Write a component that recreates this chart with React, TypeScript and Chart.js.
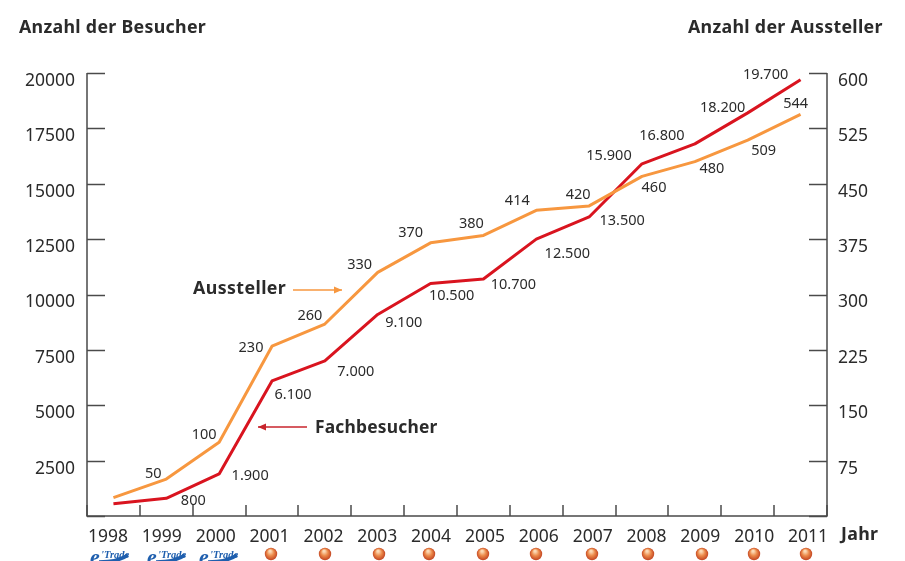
import React, { useEffect, useRef } from "react";
import { Chart, registerables } from "chart.js";

Chart.register(...registerables);

const years = ["1998","1999","2000","2001","2002","2003","2004","2005","2006","2007","2008","2009","2010","2011"];
const fachbesucher = [550,800,1900,6100,7000,9100,10500,10700,12500,13500,15900,16800,18200,19700];
const aussteller = [25,50,100,230,260,330,370,380,414,420,460,480,509,544];
const fachLabels = [null,"800","1.900","6.100","7.000","9.100","10.500","10.700","12.500","13.500","15.900","16.800","18.200","19.700"];
const ausLabels = [null,"50","100","230","260","330","370","380","414","420","460","480","509","544"];

const FONT = '"Noto Sans", sans-serif';
const TEXT = "#2b2b2b";
const RED = "#d9141f";
const ORANGE = "#f7973f";

const fachOffsets = [[0,0],[27,3],[31,2],[21,14],[31,11],[26,8],[21,12],[30,6],[31,15],[33,4],[-33,-8],[-33,-8],[-25,-5],[-35,-5]];
const ausOffsets = [[0,0],[-13,-5],[-15,-7],[-21,2],[-15,-8],[-18,-7],[-20,-10],[-12,-12],[-19,-9],[-11,-11],[12,12],[17,7],[16,11],[-5,-10]];
const ballX = [271,325,379,429,483,536,592,648,702,754,806];
const logoX = [90,147,199];

function arrow(ctx: CanvasRenderingContext2D, x1: number, x2: number, y: number, color: string) {
  const d = x2 > x1 ? 1 : -1;
  ctx.strokeStyle = color;
  ctx.fillStyle = color;
  ctx.lineWidth = 1.6;
  ctx.beginPath();
  ctx.moveTo(x1, y);
  ctx.lineTo(x2, y);
  ctx.stroke();
  ctx.beginPath();
  ctx.moveTo(x2, y);
  ctx.lineTo(x2 - 8 * d, y - 3.5);
  ctx.lineTo(x2 - 8 * d, y + 3.5);
  ctx.closePath();
  ctx.fill();
}

function spaced(ctx: CanvasRenderingContext2D, s: string, x: number, y: number, font: string, sp: string) {
  ctx.font = font;
  (ctx as any).letterSpacing = sp;
  ctx.textAlign = "left";
  ctx.textBaseline = "middle";
  ctx.fillStyle = TEXT;
  ctx.fillText(s, x, y);
  (ctx as any).letterSpacing = "0px";
}

const decor = {
  id: "decor",
  afterDraw(chart: any) {
    const { ctx, chartArea: a, scales } = chart;
    const { x, y, y2 } = scales;
    ctx.save();

    // axis lines
    ctx.strokeStyle = "#4a4a4a";
    ctx.lineWidth = 1.5;
    ctx.beginPath();
    ctx.moveTo(a.left, a.top);
    ctx.lineTo(a.left, a.bottom);
    ctx.lineTo(a.right, a.bottom);
    ctx.lineTo(a.right, a.top);
    ctx.stroke();

    // inward ticks
    y.ticks.forEach((t: any) => {
      const p = Math.round(y.getPixelForValue(t.value)) + 0.5;
      ctx.beginPath();
      ctx.moveTo(a.left, p);
      ctx.lineTo(a.left + 18, p);
      ctx.stroke();
    });
    y2.ticks.forEach((t: any) => {
      const p = Math.round(y2.getPixelForValue(t.value)) + 0.5;
      ctx.beginPath();
      ctx.moveTo(a.right, p);
      ctx.lineTo(a.right - 18, p);
      ctx.stroke();
    });
    const band = x.getPixelForValue(1) - x.getPixelForValue(0);
    for (let i = 0; i <= years.length; i++) {
      const p = Math.round(x.getPixelForValue(0) - band / 2 + i * band);
      ctx.beginPath();
      ctx.moveTo(p, a.bottom);
      ctx.lineTo(p, a.bottom - 11);
      ctx.stroke();
    }

    // value labels
    ctx.font = `14.5px ${FONT}`;
    ctx.fillStyle = TEXT;
    ctx.textAlign = "center";
    ctx.textBaseline = "middle";
    fachLabels.forEach((s, i) => {
      if (!s) return;
      ctx.fillText(s, x.getPixelForValue(i) + fachOffsets[i][0], y.getPixelForValue(fachbesucher[i]) + fachOffsets[i][1]);
    });
    ausLabels.forEach((s, i) => {
      if (!s) return;
      ctx.fillText(s, x.getPixelForValue(i) + ausOffsets[i][0], y2.getPixelForValue(aussteller[i]) + ausOffsets[i][1]);
    });

    // titles and series names
    const bold = `700 17.8px ${FONT}`;
    spaced(ctx, "Anzahl der Besucher", 19, 28, bold, "0.3px");
    spaced(ctx, "Anzahl der Aussteller", 688, 28, bold, "0.3px");
    spaced(ctx, "Aussteller", 193, 289, bold, "0.4px");
    spaced(ctx, "Fachbesucher", 315, 428, `700 17.4px ${FONT}`, "0.2px");
    spaced(ctx, "Jahr", 841, 535, bold, "0.3px");
    arrow(ctx, 293, 342, 290, ORANGE);
    arrow(ctx, 307, 258, 427, "#c8242c");

    // logos along the bottom edge
    logoX.forEach((lx) => {
      ctx.fillStyle = "#1f5fae";
      ctx.textAlign = "left";
      ctx.textBaseline = "alphabetic";
      ctx.font = 'italic 700 22px "Liberation Serif", serif';
      ctx.fillText("e", lx, 564);
      ctx.font = 'italic 700 10.5px "Liberation Serif", serif';
      ctx.fillText("'Trade", lx + 11, 558);
      ctx.strokeStyle = "#1f5fae";
      ctx.lineWidth = 3.5;
      ctx.beginPath();
      ctx.moveTo(lx + 9, 562);
      ctx.quadraticCurveTo(lx + 28, 562, lx + 38, 555);
      ctx.stroke();
    });
    ballX.forEach((bx) => {
      const g = ctx.createRadialGradient(bx - 1, 551, 1, bx, 554, 6.5);
      g.addColorStop(0, "#fbd9b5");
      g.addColorStop(0.45, "#ec8a4a");
      g.addColorStop(1, "#c0401f");
      ctx.fillStyle = g;
      ctx.beginPath();
      ctx.arc(bx, 554, 6.2, 0, Math.PI * 2);
      ctx.fill();
    });
    ctx.restore();
  },
};

export default function App() {
  const ref = useRef<HTMLCanvasElement>(null);
  useEffect(() => {
    const tickFont = { family: FONT, size: 17.5 };
    const chart = new Chart(ref.current!, {
      type: "line",
      data: {
        labels: years,
        datasets: [
          { label: "Aussteller", data: aussteller, yAxisID: "y2", xAxisID: "x", borderColor: ORANGE, borderWidth: 3, pointRadius: 0, tension: 0, borderJoinStyle: "round" },
          { label: "Fachbesucher", data: fachbesucher, yAxisID: "y", xAxisID: "x", borderColor: RED, borderWidth: 3, pointRadius: 0, tension: 0, borderJoinStyle: "round" },
        ],
      },
      options: {
        responsive: false,
        animation: false,
        layout: { padding: { top: 73, left: 0, right: 0, bottom: 0 } },
        plugins: { legend: { display: false }, tooltip: { enabled: false }, title: { display: false } },
        scales: {
          x: {
            type: "category",
            offset: true,
            position: "bottom",
            grid: { display: false },
            border: { display: false },
            ticks: { display: false },
            afterFit: (s: any) => { s.height = 0; },
          },
          yearLabels: {
            type: "linear",
            axis: "x",
            position: "bottom",
            min: 1997.61,
            max: 2011.352,
            grid: { display: false },
            border: { display: false },
            ticks: {
              autoSkip: false,
              maxRotation: 0,
              minRotation: 0,
              padding: 3,
              color: TEXT,
              font: tickFont,
              callback: (v: any) => String(v),
            },
            afterBuildTicks: (s: any) => { s.ticks = years.map((v) => ({ value: Number(v) })); },
            afterFit: (s: any) => { s.height = 45; },
          },
          y: {
            type: "linear",
            position: "left",
            min: 0,
            max: 20000,
            grid: { display: false, drawTicks: false },
            border: { display: false },
            ticks: {
              stepSize: 2500,
              padding: 12,
              labelOffset: 8,
              color: TEXT,
              font: tickFont,
              callback: (v: any) => (v === 0 ? "" : String(v)),
            },
            afterFit: (s: any) => { s.width = 87; },
          },
          y2: {
            type: "linear",
            position: "right",
            min: 0,
            max: 600,
            grid: { display: false, drawTicks: false },
            border: { display: false },
            ticks: {
              stepSize: 75,
              padding: 11,
              labelOffset: 8,
              color: TEXT,
              font: tickFont,
              callback: (v: any) => (v === 0 ? "" : String(v)),
            },
            afterFit: (s: any) => { s.width = 78; },
          },
        },
      },
      plugins: [decor],
    } as any);
    return () => chart.destroy();
  }, []);
  return (
    <div style={{ position: "absolute", left: 0, top: 0, width: 905, height: 561, background: "#fff", overflow: "hidden" }}>
      <canvas ref={ref} width={905} height={561} style={{ display: "block" }} />
    </div>
  );
}
